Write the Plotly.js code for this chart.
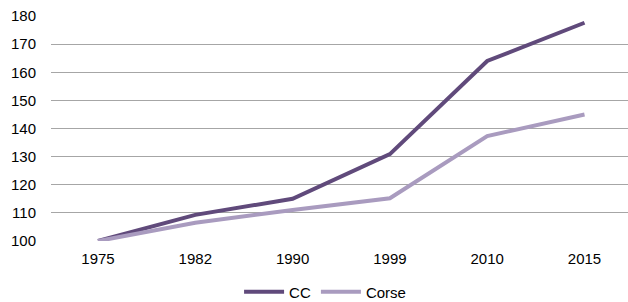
<!DOCTYPE html>
<html><head><meta charset="utf-8">
<script src="https://cdn.plot.ly/plotly-3.0.1.min.js"></script>
<style>html,body{margin:0;padding:0;background:#fff;}#chart{width:628px;height:302px;}</style>
</head><body><div id="chart"></div>
<script>
const years = ["1975","1982","1990","1999","2010","2015"];
const ccValues = [100, 109.3, 115, 130.9, 164, 177.6];
const corseValues = [100, 106.5, 111, 115.2, 137.3, 145];
const yTicks = [100,110,120,130,140,150,160,170,180];

const traces = [
  {x: years, y: ccValues, name: "CC", type: "scatter", mode: "lines",
   line: {color: "#604a7b", width: 4}},
  {x: years, y: corseValues, name: "Corse", type: "scatter", mode: "lines",
   line: {color: "#a99bbf", width: 4}}
];
const layout = {
  width: 628, height: 302,
  margin: {l: 51, r: 0, t: 16, b: 61, autoexpand: false},
  paper_bgcolor: "#fff", plot_bgcolor: "#fff",
  font: {family: "Liberation Sans, Arial, sans-serif", size: 15, color: "#000"},
  showlegend: true,
  legend: {orientation: "h", x: 0.475, xanchor: "center", y: -0.227, yanchor: "middle",
           font: {size: 15}, itemwidth: 40, tracegroupgap: 0},
  xaxis: {type: "category", range: [-0.483, 5.447], showgrid: false, zeroline: false,
          showline: false, ticks: "", tickfont: {size: 15}, ticklabelstandoff: 7},
  yaxis: {range: [100, 180], tickvals: yTicks, showgrid: true, gridcolor: "#a6a6a6",
          gridwidth: 1, zeroline: false, showline: false, ticks: "", ticklabelstandoff: 14,
          tickfont: {size: 15}}
};
Plotly.newPlot("chart", traces, layout, {displayModeBar: false, staticPlot: true});
</script></body></html>
